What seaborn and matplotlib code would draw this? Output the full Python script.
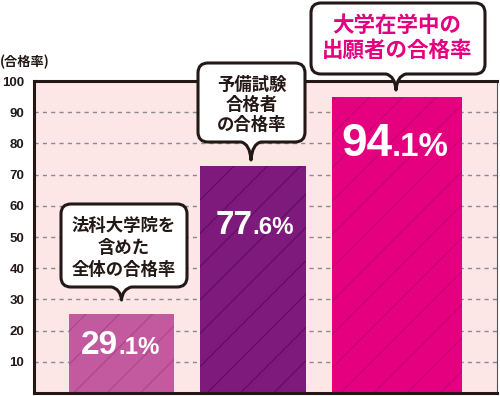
import matplotlib
matplotlib.use("Agg")
import matplotlib.pyplot as plt
import seaborn as sns
import numpy as np
import pandas as pd
from matplotlib.path import Path
from matplotlib.patches import PathPatch
from matplotlib.offsetbox import TextArea, HPacker, AnnotationBbox

# Data
categories = ["法科大学院を含めた全体", "予備試験合格者", "大学在学中の出願者"]
pass_rates = [29.1, 77.6, 94.1]          # labelled values
bar_heights = [25.3, 72.8, 94.9]         # heights as drawn in the picture
callout_lines = [
    ["法科大学院を", "含めた", "全体の合格率"],
    ["予備試験", "合格者", "の合格率"],
    ["大学在学中の", "出願者の合格率"],
]
y_ticks = [10, 20, 30, 40, 50, 60, 70, 80, 90, 100]
unit_label = "(合格率)"

bar_colors = ["#c35a9f", "#7d1a7b", "#e4007f"]
hatch_colors = ["#ae468c", "#650c63", "#c90070"]

W, H = 500, 396
sns.set_style("white")
plt.rcParams["font.family"] = ["Liberation Sans", "Noto Sans CJK JP", "DejaVu Sans"]
plt.rcParams["hatch.linewidth"] = 0.9
CJK = ["Noto Sans CJK JP", "DejaVu Sans"]

fig = plt.figure(figsize=(W / 100, H / 100), dpi=100)
fig.patch.set_facecolor("white")

# axes box in pixels (left, right, top, bottom)
ax_l, ax_r, ax_t, ax_b = 34, 497, 81, 393
ax = fig.add_axes([ax_l / W, 1 - ax_b / H, (ax_r - ax_l) / W, (ax_b - ax_t) / H])
ax.set_facecolor("#fde6e6")

df = pd.DataFrame({"cat": categories, "height": bar_heights})
sns.barplot(data=df, x="cat", y="height", hue="cat", palette=bar_colors,
            legend=False, ax=ax, width=0.7, saturation=1)

# bar layout in pixels
bar_left_px = [69, 200, 332]
bar_width_px = [105, 106, 130]
ax.set_xlim(-0.5, 2.5)
ppu = (ax_r - ax_l) / 3.0
for p, lpx, wpx, hc in zip(ax.patches, bar_left_px, bar_width_px, hatch_colors):
    p.set_x((lpx - ax_l) / ppu - 0.5)
    p.set_width(wpx / ppu)
    p.set_hatch("/")
    p.set_edgecolor(hc)
    p.set_linewidth(0)

ax.set_ylim(0, 100)
ax.set_yticks(y_ticks)
ax.set_yticklabels([str(t) for t in y_ticks], fontsize=9.5, fontweight="bold",
                   color="#231815")
ax.tick_params(axis="y", length=0, pad=7)
ax.set_xticks([])
ax.set_xlabel("")
ax.set_ylabel("")
ax.set_axisbelow(True)
ax.yaxis.grid(True, linestyle=(0, (3, 3)), color="#8a8a8a", linewidth=1)

for side in ["left", "top", "bottom"]:
    ax.spines[side].set_color("#231815")
    ax.spines[side].set_linewidth(2.2)
ax.spines["right"].set_color("#555555")
ax.spines["right"].set_linewidth(0.8)

fig.text(0 / W, 1 - 62 / H, unit_label, fontsize=9.5, fontweight="bold",
         family=CJK, color="#231815", ha="left", va="center")


def px(x, y):
    return (x / W, 1 - y / H)


def callout(x0, x1, y0, y1, tx, ty, r=10, hw=10):
    verts = [
        (x0 + r, y0), (x1 - r, y0),
        (x1, y0), (x1, y0 + r),
        (x1, y1 - r),
        (x1, y1), (x1 - r, y1),
        (tx + hw, y1),
        (tx + 1, y1 + 2), (tx, ty),
        (tx - 1, y1 + 2), (tx - hw, y1),
        (x0 + r, y1),
        (x0, y1), (x0, y1 - r),
        (x0, y0 + r),
        (x0, y0), (x0 + r, y0),
        (x0 + r, y0),
    ]
    codes = [Path.MOVETO, Path.LINETO,
             Path.CURVE3, Path.CURVE3,
             Path.LINETO,
             Path.CURVE3, Path.CURVE3,
             Path.LINETO,
             Path.CURVE3, Path.CURVE3,
             Path.CURVE3, Path.CURVE3,
             Path.LINETO,
             Path.CURVE3, Path.CURVE3,
             Path.LINETO,
             Path.CURVE3, Path.CURVE3,
             Path.CLOSEPOLY]
    path = Path([px(*v) for v in verts], codes)
    patch = PathPatch(path, facecolor="white", edgecolor="#231815", lw=2.2,
                      transform=fig.transFigure, zorder=5, joinstyle="round")
    fig.add_artist(patch)


boxes = [
    (61, 187, 204, 287, 121.5, 300),
    (198, 305, 63, 142, 251, 160),
    (311, 485, 3, 74, 396, 90),
]
text_x = [124, 252, 397]
text_y = [[226, 248, 270], [85, 105, 125], [25, 50]]
text_size = [12.5, 12.5, 15.5]
text_color = ["#231815", "#231815", "#e4007f"]
for b, lines, cx, ys, fs, col in zip(boxes, callout_lines, text_x, text_y,
                                     text_size, text_color):
    callout(*b)
    for line, yy in zip(lines, ys):
        t = fig.text(*px(cx, yy), line, ha="center", va="center", fontsize=fs,
                     fontweight="bold", family=CJK, color=col, zorder=6)

# percentage labels
label_x = [120.5, 255, 395]
label_y = [346, 225, 144]
label_big = [24, 24, 33]
for v, lx, ly, big in zip(pass_rates, label_x, label_y, label_big):
    s = f"{v:.1f}%"
    whole, rest = s.split(".")
    a = TextArea(whole, textprops=dict(fontsize=big, fontweight="bold",
                                       color="white", family="Liberation Sans"))
    b = TextArea("." + rest, textprops=dict(fontsize=big * 0.72, fontweight="bold",
                                            color="white", family="Liberation Sans"))
    pack = HPacker(children=[a, b], align="baseline", pad=0, sep=0)
    ab = AnnotationBbox(pack, (lx, H - ly), xycoords="figure pixels",
                        frameon=False, box_alignment=(0.5, 0.5), pad=0)
    ab.set_zorder(4)
    fig.add_artist(ab)

fig.savefig("out.png", dpi=100)
